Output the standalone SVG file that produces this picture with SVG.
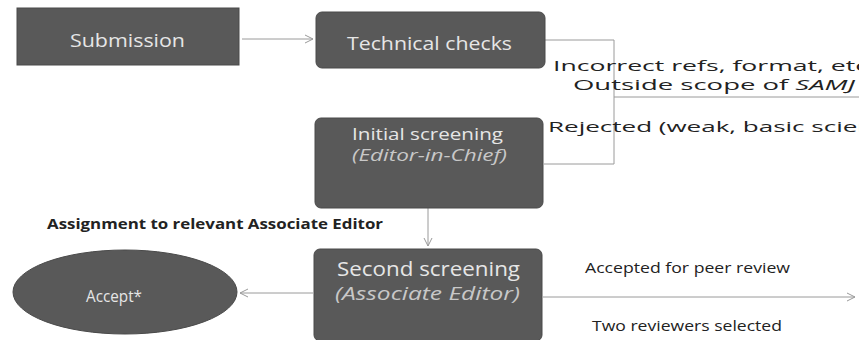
<svg xmlns="http://www.w3.org/2000/svg" width="859" height="340" viewBox="0 0 859 340">
<style>
.box{fill:#595959;stroke:#4a4a4a;stroke-width:1}
.t{font-family:"Open Sans","Liberation Sans",sans-serif;fill:#e6e6e6}
.it{font-family:"Open Sans","Liberation Sans",sans-serif;fill:#c8c8c8;font-style:italic}
.lbl{font-family:"Open Sans","Liberation Sans",sans-serif;fill:#222;font-size:15px}
.c{fill:none;stroke:#9a9a9a;stroke-width:1}
</style>
<defs>
<marker id="ah" viewBox="0 0 10 10" refX="9" refY="5" markerWidth="10" markerHeight="10" markerUnits="userSpaceOnUse" orient="auto">
<path d="M1,1 L9,5 L1,9" fill="none" stroke="#9a9a9a" stroke-width="1"/>
</marker>
</defs>
<g id="connectors">
<line class="c" x1="242" y1="39" x2="313" y2="39" marker-end="url(#ah)"/>
<polyline class="c" points="545,40 614,40 614,164 544,164"/>
<line class="c" x1="614" y1="97" x2="859" y2="97"/>
<line class="c" x1="428" y1="208" x2="428" y2="246" marker-end="url(#ah)"/>
<line class="c" x1="313" y1="293" x2="240" y2="293" marker-end="url(#ah)"/>
<line class="c" x1="543" y1="297" x2="855" y2="297" marker-end="url(#ah)"/>
</g>
<g id="submission">
<rect class="box" x="17" y="8" width="222" height="57"/>
<text class="t" x="70" y="47" font-size="18" textLength="115" lengthAdjust="spacingAndGlyphs">Submission</text>
</g>
<g id="technical-checks">
<rect class="box" x="316" y="12" width="229" height="56" rx="6"/>
<text class="t" x="347" y="50" font-size="18" textLength="165" lengthAdjust="spacingAndGlyphs">Technical checks</text>
</g>
<g id="initial-screening">
<rect class="box" x="315" y="118" width="228" height="90" rx="6"/>
<text class="t" x="352" y="140" font-size="17" textLength="151" lengthAdjust="spacingAndGlyphs">Initial screening</text>
<text class="it" x="352" y="161" font-size="16" textLength="155" lengthAdjust="spacingAndGlyphs">(Editor-in-Chief)</text>
</g>
<g id="second-screening">
<rect class="box" x="314" y="249" width="228" height="92" rx="6"/>
<text class="t" x="337" y="276" font-size="20" textLength="183" lengthAdjust="spacingAndGlyphs">Second screening</text>
<text class="it" x="335" y="300" font-size="18" textLength="185" lengthAdjust="spacingAndGlyphs">(Associate Editor)</text>
</g>
<g id="accept">
<ellipse class="box" cx="125" cy="292" rx="112" ry="42"/>
<text class="t" x="86" y="302" font-size="17" textLength="56" lengthAdjust="spacingAndGlyphs">Accept*</text>
</g>
<g id="labels">
<text class="lbl" x="553" y="71" font-size="13" textLength="322" lengthAdjust="spacingAndGlyphs">Incorrect refs, format, etc.</text>
<text class="lbl" x="573" y="90" font-size="13" textLength="282" lengthAdjust="spacingAndGlyphs">Outside scope of <tspan font-style="italic">SAMJ</tspan></text>
<text class="lbl" x="548" y="132" font-size="16" textLength="360" lengthAdjust="spacingAndGlyphs">Rejected (weak, basic science)</text>
<text class="lbl" x="47" y="229" font-weight="bold" font-size="14" textLength="336" lengthAdjust="spacingAndGlyphs">Assignment to relevant Associate Editor</text>
<text class="lbl" x="585" y="273" font-size="14" textLength="205" lengthAdjust="spacingAndGlyphs">Accepted for peer review</text>
<text class="lbl" x="592" y="331" font-size="14" textLength="190" lengthAdjust="spacingAndGlyphs">Two reviewers selected</text>
</g>
</svg>
